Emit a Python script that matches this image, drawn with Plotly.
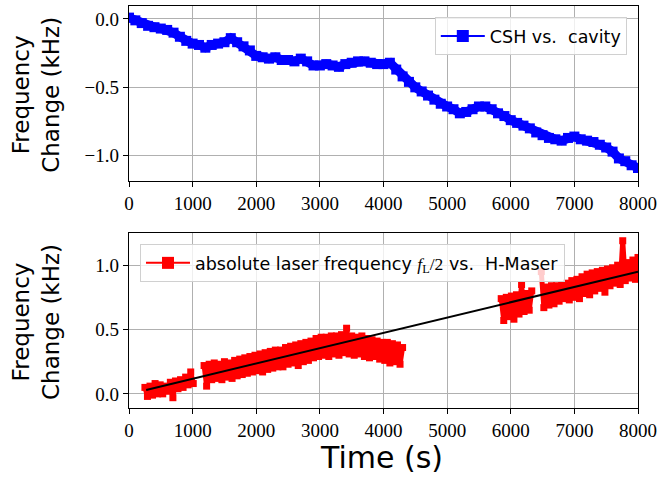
import plotly.graph_objects as go
from plotly.subplots import make_subplots

# ---------------- data ----------------
# Top: CSH vs. cavity, sampled every 100 s
csh_t = list(range(0, 8001, 100))
csh_v = [0.01, -0.01, -0.03, -0.05, -0.06, -0.07, -0.08, -0.10, -0.13, -0.16,
         -0.18, -0.19, -0.21, -0.19, -0.18, -0.17, -0.14, -0.17, -0.20, -0.23,
         -0.27, -0.28, -0.29, -0.28, -0.30, -0.30, -0.31, -0.29, -0.31, -0.34,
         -0.34, -0.33, -0.34, -0.35, -0.33, -0.32, -0.31, -0.31, -0.32, -0.33,
         -0.33, -0.32, -0.37, -0.42, -0.46, -0.50, -0.53, -0.56, -0.59, -0.62,
         -0.64, -0.66, -0.69, -0.68, -0.66, -0.64, -0.64, -0.66, -0.69, -0.71,
         -0.74, -0.76, -0.78, -0.80, -0.83, -0.85, -0.87, -0.88, -0.89, -0.87,
         -0.86, -0.88, -0.89, -0.90, -0.92, -0.94, -0.97, -1.02, -1.04, -1.07,
         -1.09]

# Bottom: absolute laser frequency vs. H-Maser (segments with gaps), 40 s samples
abs_t1 = list(range(250, 1011, 40))
abs_v1 = [0.05, -0.02, 0.06, -0.01, 0.08, 0.00, 0.07, 0.00, 0.06, 0.02,
          0.09, -0.03, 0.10, 0.04, 0.11, 0.05, 0.13, 0.07, 0.17, 0.08]
abs_t2 = list(range(1180, 4301, 40))
abs_v2 = [0.22, 0.06, 0.23, 0.11, 0.24, 0.12, 0.23, 0.11, 0.25, 0.13,
          0.24, 0.12, 0.26, 0.14, 0.27, 0.15, 0.28, 0.16, 0.29, 0.17,
          0.30, 0.18, 0.31, 0.17, 0.32, 0.19, 0.33, 0.20, 0.34, 0.21,
          0.34, 0.21, 0.36, 0.23, 0.37, 0.24, 0.38, 0.22, 0.39, 0.25,
          0.40, 0.26, 0.41, 0.28, 0.43, 0.29, 0.44, 0.30, 0.44, 0.29,
          0.45, 0.31, 0.45, 0.30, 0.46, 0.32, 0.51, 0.31, 0.45, 0.30,
          0.44, 0.31, 0.45, 0.29, 0.43, 0.28, 0.42, 0.29, 0.41, 0.27,
          0.40, 0.26, 0.40, 0.24, 0.39, 0.25, 0.38, 0.23, 0.36]
abs_t3 = list(range(5850, 6331, 40))
abs_v3 = [0.74, 0.57, 0.75, 0.60, 0.76, 0.58, 0.77, 0.62, 0.85, 0.64,
          0.78, 0.65, 0.80]
abs_t4 = list(range(6480, 8001, 40))
abs_v4 = [0.95, 0.67, 0.83, 0.69, 0.84, 0.70, 0.84, 0.72, 0.85, 0.74,
          0.86, 0.73, 0.88, 0.75, 0.89, 0.74, 0.91, 0.78, 0.93, 0.77,
          0.94, 0.80, 0.95, 0.82, 0.96, 0.79, 0.97, 0.84, 0.98, 0.86,
          1.00, 0.85, 1.19, 0.88, 1.02, 0.90, 1.04, 0.89, 1.06]

# Linear fit line
fit_t = [270, 8000]
fit_v = [0.03, 0.95]

x_ticks = [0, 1000, 2000, 3000, 4000, 5000, 6000, 7000, 8000]
top_yticks = [-1.0, -0.5, 0.0]
bot_yticks = [0.0, 0.5, 1.0]

csh_name = "CSH vs.&nbsp; cavity"
abs_name = ("absolute laser frequency "
            "<span style=\"font-family:'Liberation Serif'\"><i>f</i><sub>L</sub>/2</span>"
            " vs.&nbsp; H-Maser")

# ---------------- build ----------------
abs_t, abs_v = [], []
for tt, vv in [(abs_t1, abs_v1), (abs_t2, abs_v2), (abs_t3, abs_v3), (abs_t4, abs_v4)]:
    if abs_t:
        abs_t.append(None)
        abs_v.append(None)
    abs_t += tt
    abs_v += vv

fig = make_subplots(rows=2, cols=1)

fig.add_trace(go.Scatter(
    x=csh_t, y=csh_v, mode="lines+markers", showlegend=False,
    line=dict(color="#0000ff", width=9),
    marker=dict(symbol="square", size=10, color="#0000ff")), row=1, col=1)
# legend handle (thin line, big square) like the reference
fig.add_trace(go.Scatter(
    x=[None], y=[None], mode="lines+markers", name=csh_name,
    line=dict(color="#0000ff", width=2),
    marker=dict(symbol="square", size=12, color="#0000ff"),
    legend="legend"), row=1, col=1)

fig.add_trace(go.Scatter(
    x=abs_t, y=abs_v, mode="lines+markers", connectgaps=False, showlegend=False,
    line=dict(color="#ff0000", width=5),
    marker=dict(symbol="square", size=7, color="#ff0000")), row=2, col=1)
fig.add_trace(go.Scatter(
    x=[None], y=[None], mode="lines+markers", name=abs_name,
    line=dict(color="#ff0000", width=2),
    marker=dict(symbol="square", size=12, color="#ff0000"),
    legend="legend2"), row=2, col=1)

fig.add_trace(go.Scatter(
    x=fit_t, y=fit_v, mode="lines", showlegend=False,
    line=dict(color="black", width=2)), row=2, col=1)

tick_font = dict(family="Liberation Serif, Times New Roman, serif", size=19, color="black")
axis_common = dict(showline=True, linecolor="black", linewidth=1.3, mirror=True,
                   ticks="outside", ticklen=5, tickwidth=1.2, tickcolor="black",
                   showgrid=True, gridcolor="#b0b0b0", gridwidth=1,
                   zeroline=False, tickfont=tick_font, automargin=False)

fig.update_xaxes(range=[0, 8000], tickvals=x_ticks, ticktext=[str(v) for v in x_ticks],
                 **axis_common)
fig.update_yaxes(**axis_common)

fig.update_layout(
    width=659, height=483,
    margin=dict(l=129, r=21, t=6, b=75),
    paper_bgcolor="white", plot_bgcolor="white",
    xaxis=dict(domain=[0, 1]),
    yaxis=dict(domain=[0.5647, 1.0], range=[-1.185, 0.095], tickvals=top_yticks,
               ticktext=["\u22121.0", "\u22120.5", "0.0"]),
    xaxis2=dict(domain=[0, 1]),
    yaxis2=dict(domain=[0.0, 0.4353], range=[-0.11, 1.25], tickvals=bot_yticks,
                ticktext=["0.0", "0.5", "1.0"]),
    legend=dict(x=0.978, y=0.9726, xanchor="right", yanchor="top", itemwidth=44,
                bgcolor="rgba(255,255,255,0.8)", bordercolor="#d0d0d0", borderwidth=1,
                font=dict(family="DejaVu Sans", size=17.5, color="black")),
    legend2=dict(x=0.0216, y=0.408, xanchor="left", yanchor="top", itemwidth=44,
                 bgcolor="rgba(255,255,255,0.8)", bordercolor="#d0d0d0", borderwidth=1,
                 font=dict(family="DejaVu Sans", size=17.5, color="black")),
    showlegend=True,
)

title_font = dict(family="DejaVu Sans", size=23, color="black")
fig.add_annotation(xref="paper", yref="paper", x=(36 - 129) / 509, y=0.779,
                   xanchor="center", yanchor="middle", textangle=-90, showarrow=False,
                   text="Frequency<br>Change (kHz)", font=title_font)
fig.add_annotation(xref="paper", yref="paper", x=(36 - 129) / 509, y=0.214,
                   xanchor="center", yanchor="middle", textangle=-90, showarrow=False,
                   text="Frequency<br>Change (kHz)", font=title_font)
fig.add_annotation(xref="paper", yref="paper", x=0.497, y=-0.124,
                   xanchor="center", yanchor="middle", showarrow=False,
                   text="Time (s)", font=dict(family="DejaVu Sans", size=30, color="black"))

fig.write_html("out.html", post_script="document.body.style.margin='0px';",
               config={"displayModeBar": False})
